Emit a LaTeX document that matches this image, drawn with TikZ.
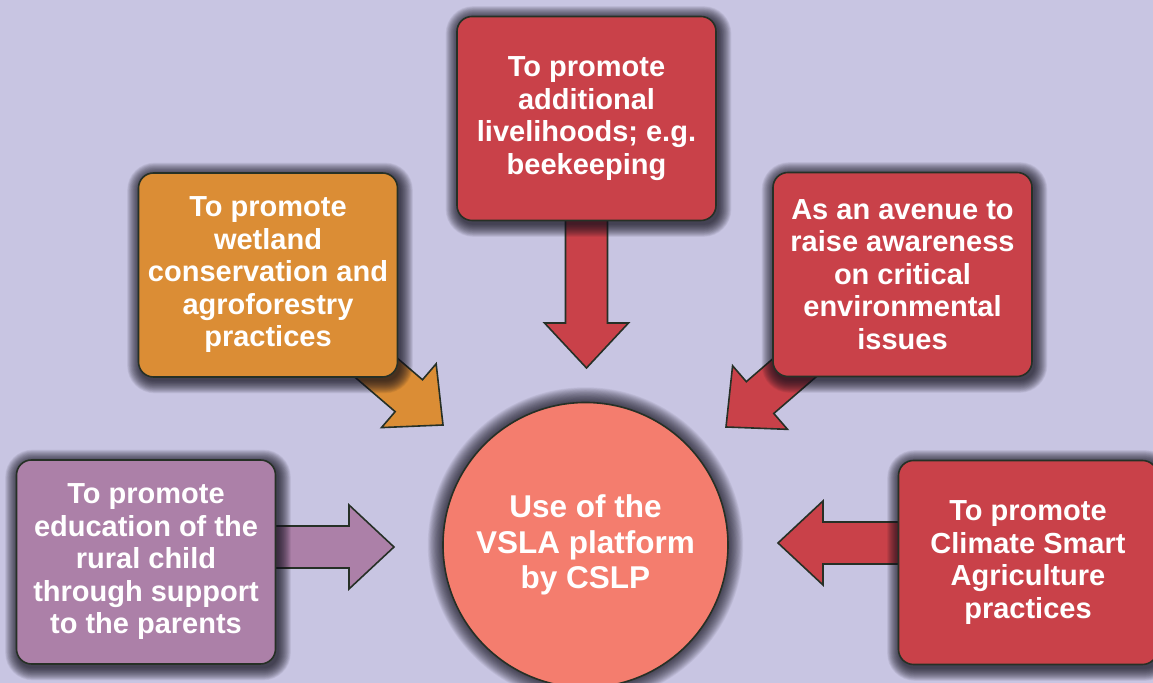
\documentclass[tikz,border=0pt]{standalone}
\usepackage{fontspec}
\setmainfont{Liberation Sans}
\usetikzlibrary{calc}

\definecolor{bgcol}{RGB}{200,197,226}
\definecolor{redbox}{RGB}{201,65,73}
\definecolor{orangebox}{RGB}{219,141,53}
\definecolor{purplebox}{RGB}{172,128,168}
\definecolor{hubcol}{RGB}{244,125,110}
\definecolor{edge}{RGB}{38,48,38}
\definecolor{shade}{RGB}{20,18,30}

\pgfdeclarelayer{bg}
\pgfdeclarelayer{arrows}
\pgfdeclarelayer{shadows}
\pgfsetlayers{bg,arrows,shadows,main}

\tikzset{
	goal/.style={draw=edge, line width=0.8pt, rounded corners=7.5pt,
		minimum width=129.5pt, minimum height=102pt, align=center, text=white,
		font=\bfseries\fontsize{14.5}{16.25}\selectfont},
	hub/.style={circle, draw=edge, line width=0.8pt, fill=hubcol, minimum size=142.5pt,
		align=center, text=white, font=\bfseries\fontsize{15.75}{17.75}\selectfont},
	fat/.style={draw=edge, line width=0.8pt, line join=miter},
	haze/.style={fill=shade, opacity=0.06}
}

% block arrow from #2 to the tip #3
\newcommand\fatarrow[3][redbox]{%
	\coordinate (base) at ($(#3)!22.5pt!(#2)$);
	\filldraw[fat, fill=#1]
		($(#2)!10.5pt!90:(#3)$) -- ($(base)!10.5pt!90:(#3)$) -- ($(base)!21pt!90:(#3)$) -- (#3)
		-- ($(base)!21pt!-90:(#3)$) -- ($(base)!10.5pt!-90:(#3)$) -- ($(#2)!10.5pt!-90:(#3)$) -- cycle;
}

% soft shadow under a box, a little to the lower right
\newcommand\boxshade[1]{%
	\foreach \s [evaluate=\s as \r using 7.5+0.33*\s, evaluate=\s as \e using 0.33*\s] in {0,...,19}
		\fill[haze, rounded corners=\r pt]
			($(#1.south west)+(1pt-\e pt,-1.5pt-\e pt)$) rectangle ($(#1.north east)+(1pt+\e pt,-1.5pt+\e pt)$);
}

% glow round the circle
\newcommand\hubshade[1]{%
	\foreach \s [evaluate=\s as \r using 71.25+0.4*\s] in {0,...,19}
		\fill[haze] (#1.center) circle (\r pt);
}

\begin{document}
\begin{tikzpicture}[x=0.5pt,y=0.5pt]
	\useasboundingbox (0,0) rectangle (1153,683);
	\begin{pgfonlayer}{bg}
		\fill[bgcol] (0,0) rectangle (1153,683);
	\end{pgfonlayer}

	\node[goal, fill=redbox] (liveli) at (586.5,564.5) {To promote\\additional\\livelihoods; e.g.\\beekeeping};
	\node[goal, fill=orangebox] (wetland) at (268,408) {To promote\\wetland\\conservation and\\agroforestry\\practices};
	\node[goal, fill=redbox] (aware) at (902.5,408.5) {As an avenue to\\raise awareness\\on critical\\environmental\\issues};
	\node[goal, fill=purplebox] (educ) at (146,121) {To promote\\education of the\\rural child\\through support\\to the parents};
	\node[goal, fill=redbox] (csa) at (1028,120.5) {To promote\\Climate Smart\\Agriculture\\practices};

	\node[hub] (vsla) at (585.5,138) {Use of the\\VSLA platform\\by CSLP};

	% arrow tips, short of the circle
	\coordinate (ttip) at (586.5,315);
	\coordinate (wtip) at (443,258);
	\coordinate (atip) at (726,256);
	\coordinate (etip) at (394,136);
	\coordinate (ctip) at (778,140);
	\coordinate (estart) at (educ.center |- etip);
	\coordinate (cstart) at (csa.center |- ctip);

	\begin{pgfonlayer}{arrows}
		\fatarrow{liveli}{ttip}
		\fatarrow[orangebox]{wetland}{wtip}
		\fatarrow{aware}{atip}
		\fatarrow[purplebox]{estart}{etip}
		\fatarrow{cstart}{ctip}
	\end{pgfonlayer}

	\begin{pgfonlayer}{shadows}
		\boxshade{liveli}
		\boxshade{wetland}
		\boxshade{aware}
		\boxshade{educ}
		\boxshade{csa}
		\hubshade{vsla}
	\end{pgfonlayer}
\end{tikzpicture}
\end{document}
